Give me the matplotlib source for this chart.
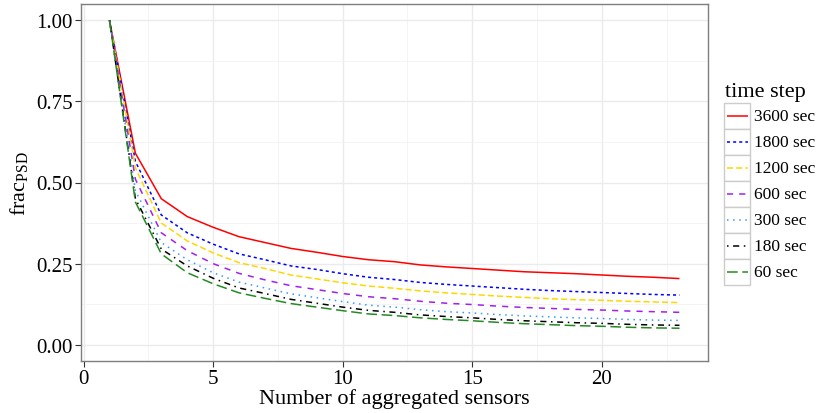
import matplotlib
matplotlib.use("Agg")
import matplotlib.pyplot as plt
from matplotlib.lines import Line2D
from matplotlib.patches import Rectangle
import numpy as np

plt.rcParams['font.family'] = ['Liberation Serif', 'DejaVu Serif']
plt.rcParams['mathtext.fontset'] = 'custom'
plt.rcParams['mathtext.rm'] = 'Liberation Serif'
plt.rcParams['mathtext.it'] = 'Liberation Serif:italic'

n_sensors = list(range(1, 24))

labels = ["3600 sec", "1800 sec", "1200 sec", "600 sec", "300 sec", "180 sec", "60 sec"]

frac_3600 = [1.0, 0.59, 0.45, 0.395, 0.362, 0.333, 0.315, 0.297, 0.285, 0.272, 0.262, 0.256,
             0.246, 0.240, 0.235, 0.230, 0.225, 0.222, 0.219, 0.215, 0.211, 0.208, 0.204]
frac_1800 = [1.0, 0.565, 0.40, 0.345, 0.31, 0.28, 0.262, 0.243, 0.232, 0.219, 0.208, 0.201,
             0.192, 0.186, 0.181, 0.176, 0.171, 0.167, 0.164, 0.161, 0.158, 0.155, 0.153]
frac_1200 = [1.0, 0.545, 0.375, 0.32, 0.283, 0.253, 0.235, 0.215, 0.203, 0.191, 0.181, 0.174,
             0.166, 0.160, 0.155, 0.150, 0.146, 0.142, 0.139, 0.137, 0.134, 0.132, 0.130]
frac_600 = [1.0, 0.51, 0.345, 0.29, 0.25, 0.22, 0.200, 0.182, 0.170, 0.158, 0.148, 0.142,
            0.134, 0.128, 0.124, 0.119, 0.115, 0.112, 0.109, 0.107, 0.104, 0.102, 0.100]
frac_300 = [1.0, 0.475, 0.315, 0.262, 0.222, 0.193, 0.175, 0.157, 0.145, 0.133, 0.122, 0.116,
            0.108, 0.102, 0.098, 0.093, 0.089, 0.086, 0.083, 0.081, 0.078, 0.076, 0.075]
frac_180 = [1.0, 0.45, 0.295, 0.243, 0.205, 0.175, 0.158, 0.140, 0.128, 0.116, 0.106, 0.100,
            0.092, 0.087, 0.083, 0.078, 0.074, 0.071, 0.068, 0.066, 0.063, 0.061, 0.060]
frac_60 = [1.0, 0.44, 0.28, 0.222, 0.188, 0.16, 0.143, 0.127, 0.116, 0.105, 0.095, 0.090,
           0.083, 0.078, 0.074, 0.069, 0.065, 0.062, 0.059, 0.057, 0.054, 0.052, 0.051]

series = [frac_3600, frac_1800, frac_1200, frac_600, frac_300, frac_180, frac_60]
colors = ["#FF0000", "#0000FF", "#FFD700", "#A020F0", "#3399FF", "#000000", "#228B22"]
dashes = [None, (2, 2), (4, 2), (4, 4), (1, 3), (1, 3, 4, 3), (7, 3)]

x_ticks = [0, 5, 10, 15, 20]
y_ticks = [0.0, 0.25, 0.5, 0.75, 1.0]

fig = plt.figure(figsize=(8.2, 4.14), dpi=100)
W, H = 820, 414
ax = fig.add_axes([81 / W, 1 - 362 / H, (708 - 81) / W, (362 - 5) / H])

lw = 1.1
for vals, c, d in zip(series, colors, dashes):
    ln, = ax.plot(n_sensors, vals, color=c, lw=lw, solid_capstyle='butt', dash_capstyle='butt')
    if d is not None:
        ln.set_dashes(d)

xr = max(n_sensors) - min(n_sensors)
ax.set_xlim(min(n_sensors) - 0.05 * xr, max(n_sensors) + 0.05 * xr)
ax.set_ylim(-0.05, 1.05)

ax.set_xticks(x_ticks)
ax.set_yticks(y_ticks)
ax.set_xticklabels([str(t) for t in x_ticks])
ax.set_yticklabels(["%.2f" % t for t in y_ticks])
ax.set_xticks([2.5, 7.5, 12.5, 17.5, 22.5], minor=True)
ax.set_yticks([0.125, 0.375, 0.625, 0.875], minor=True)
ax.grid(which='major', color='#EBEBEB', lw=1.0)
ax.grid(which='minor', color='#F2F2F2', lw=0.6)
ax.set_axisbelow(True)
ax.tick_params(which='minor', length=0)
ax.tick_params(which='major', direction='out', length=4, width=0.8, color='#333333',
               labelsize=15, labelcolor='black', pad=2)
for s in ax.spines.values():
    s.set_color('#7F7F7F')
    s.set_linewidth(1.0)

ax.set_xlabel("Number of aggregated sensors", fontsize=16, labelpad=0)
ax.set_ylabel(r"frac$_{\mathrm{PSD}}$", fontsize=16, labelpad=4)

# Legend drawn manually
fig.text(725 / W, 1 - 92 / H, "time step", fontsize=16, va='center', ha='left')
key_top = 104
key_h = 26
for i, (lab, c, d) in enumerate(zip(labels, colors, dashes)):
    y0 = key_top + i * key_h
    rect = Rectangle((724 / W, 1 - (y0 + key_h) / H), 26 / W, key_h / H,
                     transform=fig.transFigure, facecolor='white', edgecolor='#CCCCCC', lw=1.0)
    fig.add_artist(rect)
    yc = 1 - (y0 + key_h / 2) / H
    ln = Line2D([727 / W, 748 / W], [yc, yc], transform=fig.transFigure, color=c, lw=lw,
                solid_capstyle='butt', dash_capstyle='butt')
    if d is not None:
        ln.set_dashes(d)
    fig.add_artist(ln)
    fig.text(754 / W, yc, lab, fontsize=12.5, va='center', ha='left')

fig.savefig("out.png", dpi=100)
